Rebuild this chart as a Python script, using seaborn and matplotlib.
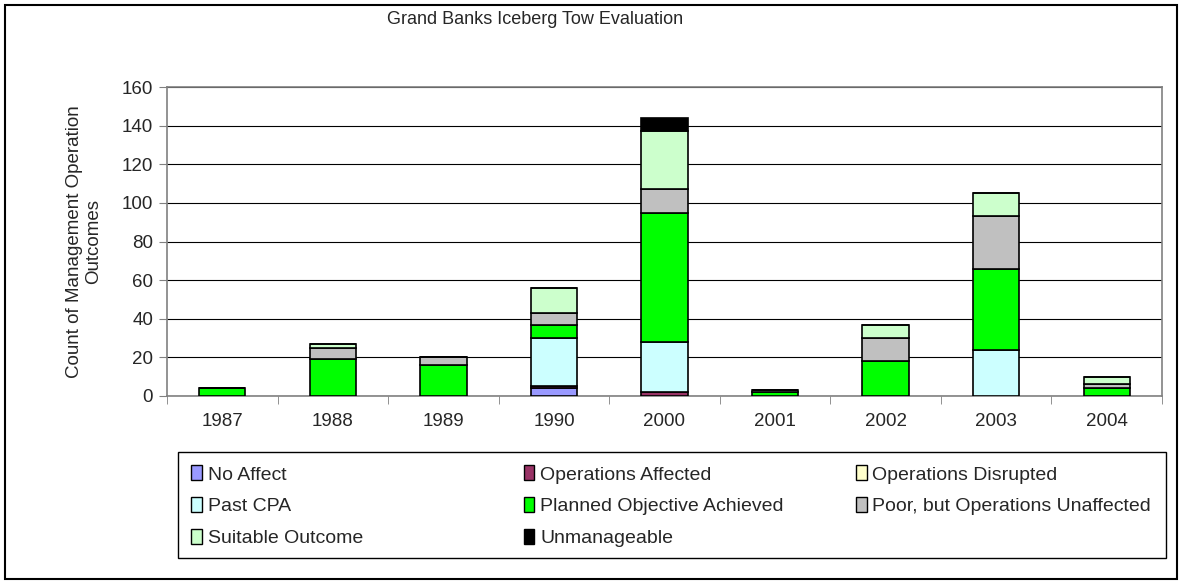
import numpy as np
import pandas as pd
import matplotlib
matplotlib.use("Agg")
import matplotlib.pyplot as plt
from matplotlib.patches import Patch, Rectangle
import seaborn as sns

# values
years = ["1987", "1988", "1989", "1990", "2000", "2001", "2002", "2003", "2004"]
outcomes = ["No Affect", "Operations Affected", "Operations Disrupted", "Past CPA",
            "Planned Objective Achieved", "Poor, but Operations Unaffected",
            "Suitable Outcome", "Unmanageable"]
no_affect     = [0, 0, 0, 4, 0, 0, 0, 0, 0]
ops_affected  = [0, 0, 0, 1, 2, 0, 0, 0, 0]
ops_disrupted = [0, 0, 0, 0, 0, 0, 0, 0, 0]
past_cpa      = [0, 0, 0, 25, 26, 0, 0, 24, 0]
planned       = [4, 19, 16, 7, 67, 2, 18, 42, 4]
poor          = [0, 6, 4, 6, 12, 1, 12, 27, 2]
suitable      = [0, 2, 0, 13, 30, 0, 7, 12, 4]
unmanageable  = [0, 0, 0, 0, 7, 0, 0, 0, 0]
colors = ["#9999FF", "#993366", "#FFFFCC", "#CCFFFF", "#00FF00", "#C0C0C0", "#CCFFCC", "#000000"]

series = [no_affect, ops_affected, ops_disrupted, past_cpa, planned, poor, suitable, unmanageable]

sns.set_style("white")
plt.rcParams['font.family'] = ['Liberation Sans', 'DejaVu Sans']

fig = plt.figure(figsize=(11.82, 5.84), dpi=100)
ax = fig.add_axes([167 / 1182, 1 - 396 / 584, 995 / 1182, 309 / 584])

bottom = np.zeros(len(years))
for name, vals, col in zip(outcomes, series, colors):
    df = pd.DataFrame({"year": years, "count": vals})
    if sum(vals) > 0:
        sns.barplot(data=df, x="year", y="count", order=years, color=col,
                    bottom=bottom, width=0.42, edgecolor="black", linewidth=1.2,
                    saturation=1, ax=ax, zorder=3)
    bottom = bottom + np.array(vals)

ax.set_ylim(0, 160)
ax.set_xlim(-0.5, len(years) - 0.5)
ax.set_yticks(range(0, 161, 20))
ax.yaxis.grid(True, color="black", linewidth=0.8)
ax.set_axisbelow(True)
ax.set_xlabel("")
ax.set_ylabel("Count of Management Operation\nOutcomes", fontsize=13.5, labelpad=14)

for s in ax.spines.values():
    s.set_visible(True)
    s.set_color("#808080")
    s.set_linewidth(1.2)

ax.tick_params(axis="y", which="major", length=6, direction="out", color="#808080",
               labelsize=13.5, pad=4, left=True)
ax.tick_params(axis="x", which="major", length=0, labelsize=13.5, pad=12)
ax.set_xticks(np.arange(-0.5, len(years), 1), minor=True)
ax.tick_params(axis="x", which="minor", length=6, direction="out", color="#808080", bottom=True)

fig.text(535 / 1182, 1 - 20 / 584, "Grand Banks Iceberg Tow Evaluation", ha="center",
         va="center", fontsize=13)

# Excel fills the legend row by row; matplotlib fills by column
order = [0, 3, 6, 1, 4, 7, 2, 5]
handles = [Patch(facecolor=colors[i], edgecolor="black", linewidth=1) for i in order]
labels = [outcomes[i] for i in order]
leg = fig.legend(handles, labels, ncol=3, loc="upper left",
                 bbox_to_anchor=(173 / 1182, 1 - 447 / 584), fontsize=14,
                 frameon=False, handlelength=0.55, handleheight=0.8,
                 handletextpad=0.3, columnspacing=1.9, borderpad=0.45, labelspacing=0.7)
leg._legend_handle_box.mode = "equal"

# legend box, drawn separately so it hugs the last column
fig.patches.append(Rectangle((178 / 1182, 1 - 558 / 584), 988 / 1182, 106 / 584,
                             transform=fig.transFigure, fill=False, edgecolor="black",
                             linewidth=1))
# chart area border
fig.patches.append(Rectangle((5 / 1182, 5 / 584), 1172 / 1182, 574 / 584,
                             transform=fig.transFigure, fill=False, edgecolor="black",
                             linewidth=1.5))

fig.savefig("out.png", dpi=100)
